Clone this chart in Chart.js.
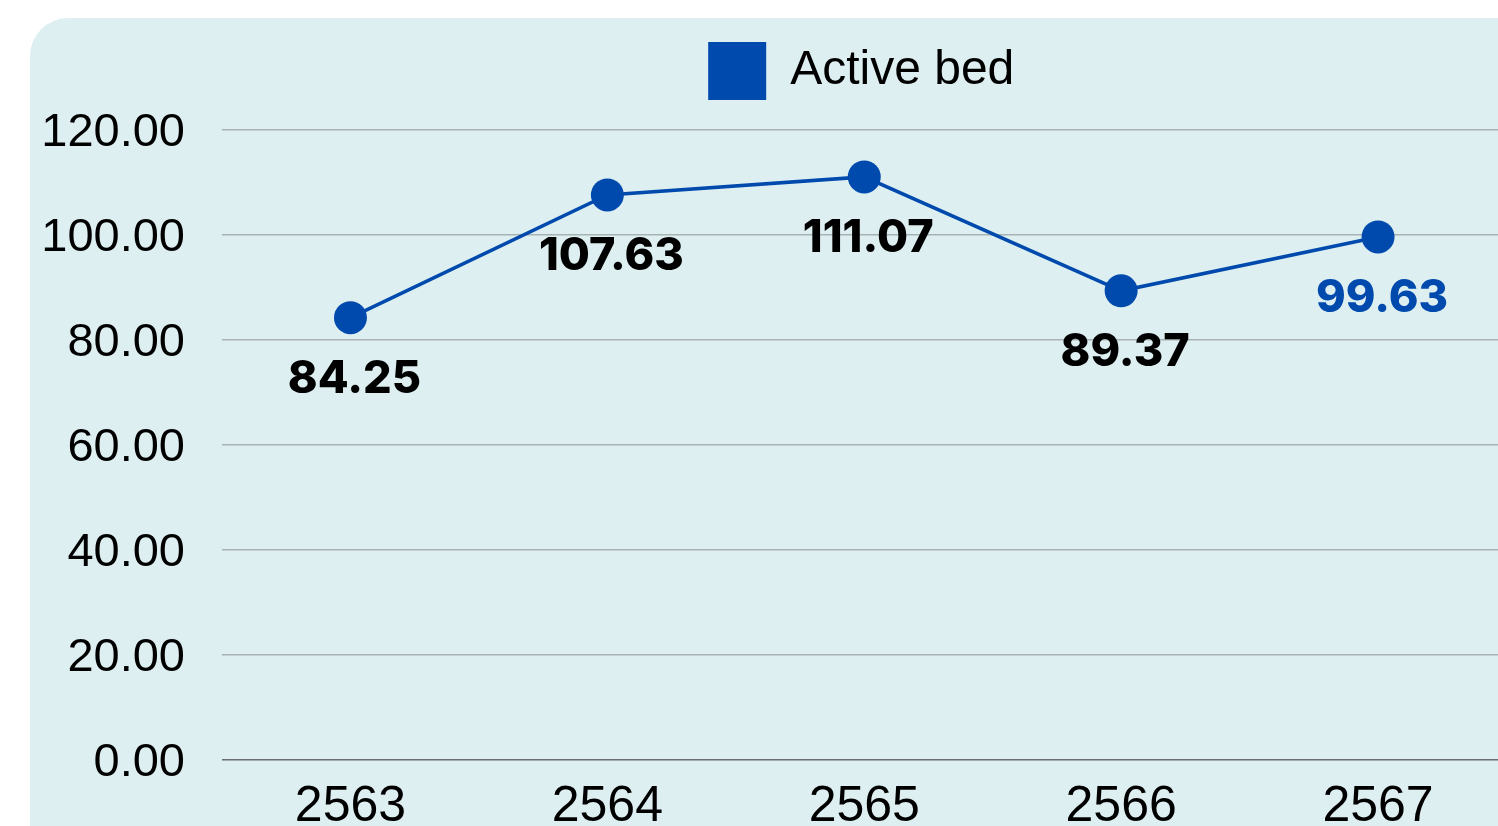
<!DOCTYPE html>
<html>
<head>
<meta charset="utf-8">
<script src="https://cdn.jsdelivr.net/npm/chart.js@4.4.1/dist/chart.umd.min.js"></script>
<style>
  html, body { margin: 0; padding: 0; width: 1498px; height: 826px; overflow: hidden; background: #ffffff; }
  #bg { position: absolute; left: 30px; top: 18px; width: 1540px; height: 880px; background: #DEEFF2; border-radius: 38px; }
  #wrap { position: absolute; left: 0; top: 0; width: 1523px; height: 832px; }
</style>
</head>
<body>
<div id="bg"></div>
<div id="wrap"><canvas id="c" width="1523" height="832"></canvas></div>
<script>
const categories = ['2563', '2564', '2565', '2566', '2567'];
const activeBed = [84.25, 107.63, 111.07, 89.37, 99.63];
const seriesName = 'Active bed';
const yTicks = [0, 20, 40, 60, 80, 100, 120];

const BLUE = '#004AAD';

const valueLabels = {
  id: 'valueLabels',
  afterDatasetsDraw(chart) {
    const ctx = chart.ctx;
    const meta = chart.getDatasetMeta(0);
    const data = chart.data.datasets[0].data;
    ctx.save();
    ctx.font = '800 45px Inter, "Liberation Sans", sans-serif';
    ctx.textAlign = 'center';
    ctx.textBaseline = 'middle';
    meta.data.forEach((pt, i) => {
      ctx.fillStyle = i === data.length - 1 ? BLUE : '#000000';
      ctx.fillText(data[i].toFixed(2), pt.x + 4, pt.y + 62);
    });
    ctx.restore();
  }
};

const legendSpacer = {
  id: 'legendSpacer',
  beforeInit(chart) {
    const origFit = chart.legend.fit;
    chart.legend.fit = function () {
      origFit.bind(chart.legend)();
      this.height = 98;
    };
  },
  afterLayout(chart) {
    const lg = chart.legend;
    const ca = chart.chartArea;
    const shift = (ca.left + ca.right) / 2 - 3 - (lg.left + lg.right) / 2;
    lg.left += shift;
    lg.right += shift;
  }
};

new Chart(document.getElementById('c'), {
  type: 'line',
  data: {
    labels: categories,
    datasets: [{
      label: seriesName,
      data: activeBed,
      borderColor: BLUE,
      backgroundColor: BLUE,
      borderWidth: 3.5,
      pointRadius: 16.5,
      pointHoverRadius: 16.5,
      pointBackgroundColor: BLUE,
      pointBorderWidth: 0,
      tension: 0,
      fill: false
    }]
  },
  plugins: [valueLabels, legendSpacer],
  options: {
    responsive: false,
    animation: false,
    layout: { padding: { top: 32, left: 0, right: 0, bottom: 0 } },
    plugins: {
      legend: {
        display: true,
        position: 'top',
        labels: {
          boxWidth: 58,
          boxHeight: 58,
          padding: 10,
          color: '#000000',
          font: { family: '"Liberation Sans", Arial, sans-serif', size: 48 },
          generateLabels(chart) {
            return [{ text: seriesName, fillStyle: BLUE, strokeStyle: BLUE, lineWidth: 0, datasetIndex: 0 }];
          }
        }
      },
      tooltip: { enabled: false }
    },
    scales: {
      x: {
        offset: true,
        grid: { display: false, drawTicks: false },
        border: { display: false },
        ticks: {
          color: '#000000',
          padding: 17,
          font: { family: '"Liberation Sans", Arial, sans-serif', size: 50 },
          maxRotation: 0
        },
        afterFit(scale) { scale.height = 72; }
      },
      y: {
        min: 0,
        max: 120,
        afterBuildTicks(scale) { scale.ticks = yTicks.map(v => ({ value: v })); },
        grid: {
          drawTicks: false,
          lineWidth: 1.5,
          color: (c) => (c.tick && c.tick.value === 0 ? '#6a6f6f' : '#a7b3b3')
        },
        border: { display: false },
        ticks: {
          color: '#000000',
          padding: 37,
          labelOffset: 3,
          font: { family: '"Liberation Sans", Arial, sans-serif', size: 47 },
          callback: (v) => Number(v).toFixed(2)
        },
        afterFit(scale) { scale.width = 222; }
      }
    }
  }
});
</script>
</body>
</html>
